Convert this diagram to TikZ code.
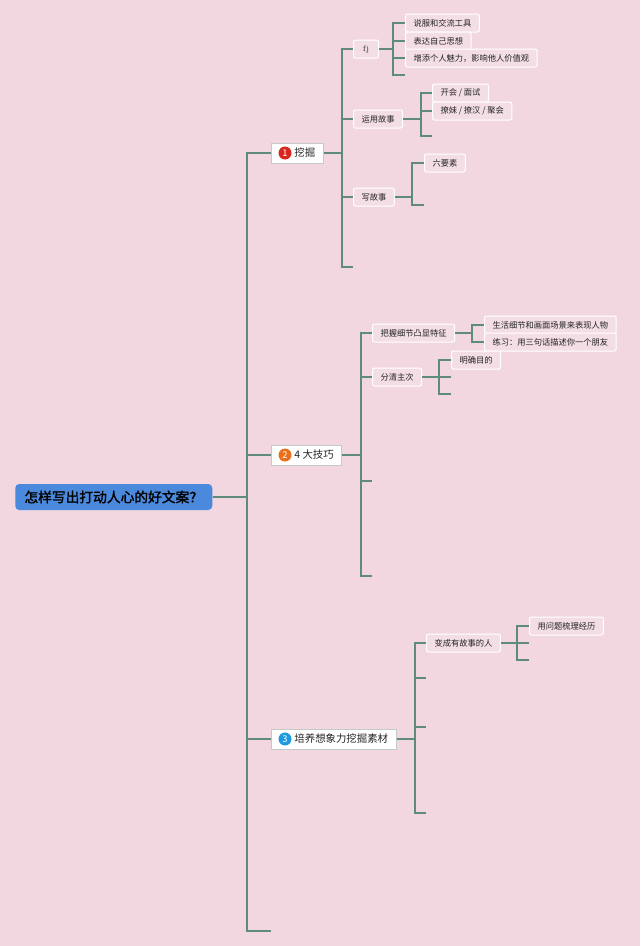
\documentclass[tikz,border=0pt]{standalone}
\usepackage{fontspec}
\newfontfamily\cjk{Noto Sans CJK SC}
\newfontfamily\cjkb[FakeBold=1.6]{Noto Sans CJK SC}
\newdimen\px \px=0.75pt
\definecolor{bg}{RGB}{242,215,224}
\definecolor{leaff}{RGB}{244,222,229}
\definecolor{lineg}{RGB}{94,139,122}
\definecolor{brd}{RGB}{196,202,198}
\definecolor{txt}{RGB}{35,35,35}
\definecolor{rootb}{RGB}{74,137,220}
\definecolor{n1}{RGB}{215,38,30}
\definecolor{n2}{RGB}{232,112,26}
\definecolor{n3}{RGB}{30,155,224}
\begin{document}
\begin{tikzpicture}[x=0.75pt,y=-0.75pt,
  conn/.style={draw=lineg, line width=1.3\px},
  leaf/.style={draw=white, fill=leaff, rounded corners=2\px, line width=1\px,
    font=\cjk\fontsize{6.2}{7}\selectfont, text=txt, inner xsep=8\px, inner ysep=0pt,
    minimum height=18\px, anchor=west},
  branch/.style={draw=brd, fill=white, line width=0.9\px,
    font=\cjk\fontsize{7.8}{9}\selectfont, text=txt, inner xsep=8\px, inner ysep=0pt,
    minimum height=20\px, anchor=west},
  numc/.style={circle, inner sep=0pt, minimum size=13\px, text=white,
    font=\cjk\fontsize{7}{7}\selectfont},
  rootn/.style={fill=rootb, rounded corners=4\px, minimum width=197\px,
    minimum height=26\px, anchor=west, inner sep=0pt,
    font=\cjkb\fontsize{10.3}{12}\selectfont, text=black}
]
\fill[bg] (0,0) rectangle (640,946);
\useasboundingbox (0,0) rectangle (640,946);

% root
\node[rootn] (root) at (15,497) {怎样写出打动人心的好文案？};

% main branches
\node[branch] (b1) at (271,153) {\hspace{15\px}挖掘};
\node[numc, fill=n1] (c1) at (285,153) {1};
\node[branch] (b2) at (271,455) {\hspace{15\px}4 大技巧};
\node[numc, fill=n2] (c2) at (285,455) {2};
\node[branch] (b3) at (271,739) {\hspace{15\px}培养想象力挖掘素材};
\node[numc, fill=n3] (c3) at (285,739) {3};

\coordinate (J0) at (247,497);
\coordinate (s0) at (271,931);
\draw[conn] (root.east) -- (J0) |- (b1.west);
\draw[conn] (root.east) -- (J0) |- (b2.west);
\draw[conn] (root.east) -- (J0) |- (b3.west);
\draw[conn] (root.east) -- (J0) |- (s0);

% branch 1
\node[leaf, minimum width=25\px, font=\rmfamily\fontsize{6}{7}\selectfont] (fj) at (353,49) {fj};
\node[leaf] (yy) at (353,119) {运用故事};
\node[leaf] (xg) at (353,197) {写故事};
\coordinate (J1) at (342,153);
\coordinate (s1) at (353,267);
\draw[conn] (b1.east) -- (J1) |- (fj.west);
\draw[conn] (b1.east) -- (J1) |- (yy.west);
\draw[conn] (b1.east) -- (J1) |- (xg.west);
\draw[conn] (b1.east) -- (J1) |- (s1);

\node[leaf] (l1) at (405,23) {说服和交流工具};
\node[leaf] (l2) at (405,41) {表达自己思想};
\node[leaf] (l3) at (405,58) {增添个人魅力，影响他人价值观};
\coordinate (J11) at (393,49);
\coordinate (s11) at (405,75);
\draw[conn] (fj.east) -- (J11) |- (l1.west);
\draw[conn] (fj.east) -- (J11) |- (l2.west);
\draw[conn] (fj.east) -- (J11) |- (l3.west);
\draw[conn] (fj.east) -- (J11) |- (s11);

\node[leaf] (l4) at (432,93) {开会 / 面试};
\node[leaf] (l5) at (432,111) {撩妹 / 撩汉 / 聚会};
\coordinate (J12) at (421,119);
\coordinate (s12) at (432,136);
\draw[conn] (yy.east) -- (J12) |- (l4.west);
\draw[conn] (yy.east) -- (J12) |- (l5.west);
\draw[conn] (yy.east) -- (J12) |- (s12);

\node[leaf] (l6) at (424,163) {六要素};
\coordinate (J13) at (412,197);
\coordinate (s13) at (424,205);
\draw[conn] (xg.east) -- (J13) |- (l6.west);
\draw[conn] (xg.east) -- (J13) |- (s13);

% branch 2
\node[leaf] (bw) at (372,333) {把握细节凸显特征};
\node[leaf] (fq) at (372,377) {分清主次};
\coordinate (J2) at (361,455);
\coordinate (s21) at (372,481);
\coordinate (s22) at (372,576);
\draw[conn] (b2.east) -- (J2) |- (bw.west);
\draw[conn] (b2.east) -- (J2) |- (fq.west);
\draw[conn] (b2.east) -- (J2) |- (s21);
\draw[conn] (b2.east) -- (J2) |- (s22);

\node[leaf, minimum width=131\px] (l7) at (484,325) {生活细节和画面场景来表现人物};
\node[leaf, minimum width=131\px] (l8) at (484,342) {练习：用三句话描述你一个朋友};
\coordinate (J21) at (472,333);
\draw[conn] (bw.east) -- (J21) |- (l7.west);
\draw[conn] (bw.east) -- (J21) |- (l8.west);

\node[leaf] (l9) at (451,360) {明确目的};
\coordinate (J22) at (439,377);
\coordinate (s23) at (451,377);
\coordinate (s24) at (451,394);
\draw[conn] (fq.east) -- (J22) |- (l9.west);
\draw[conn] (fq.east) -- (J22) |- (s23);
\draw[conn] (fq.east) -- (J22) |- (s24);

% branch 3
\node[leaf] (bc) at (426,643) {变成有故事的人};
\coordinate (J3) at (415,739);
\coordinate (s31) at (426,678);
\coordinate (s32) at (426,727);
\coordinate (s33) at (426,813);
\draw[conn] (b3.east) -- (J3) |- (bc.west);
\draw[conn] (b3.east) -- (J3) |- (s31);
\draw[conn] (b3.east) -- (J3) |- (s32);
\draw[conn] (b3.east) -- (J3) |- (s33);

\node[leaf] (l10) at (529,626) {用问题梳理经历};
\coordinate (J31) at (517,643);
\coordinate (s34) at (529,643);
\coordinate (s35) at (529,660);
\draw[conn] (bc.east) -- (J31) |- (l10.west);
\draw[conn] (bc.east) -- (J31) |- (s34);
\draw[conn] (bc.east) -- (J31) |- (s35);
\end{tikzpicture}
\end{document}
